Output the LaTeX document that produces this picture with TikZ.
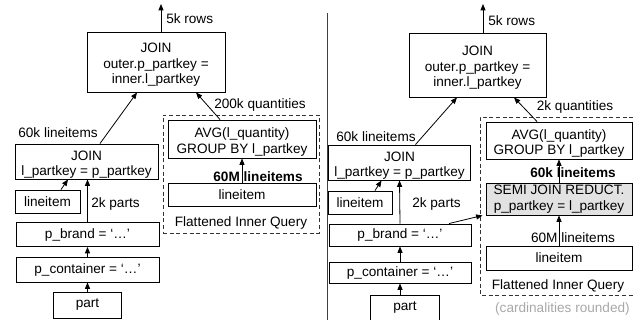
\documentclass[tikz,border=0pt]{standalone}
\usepackage{fontspec}
\setmainfont{Liberation Sans}
\usetikzlibrary{arrows.meta,calc}
\newdimen\pxu \pxu=0.75pt
\newcommand{\firststrut}{\rule{0pt}{11.6pt}}
\definecolor{semigray}{HTML}{E2E2E2}
\definecolor{notegray}{HTML}{A8A8A8}
\definecolor{dashgray}{HTML}{333333}
\tikzset{
  box/.style={draw, line width=0.7pt, inner sep=0pt, align=center},
  lbl/.style={inner sep=0pt},
  arr/.style={line width=0.6pt, -{Triangle[length=4.8pt,width=3.8pt]}},
  dbox/.style={draw=dashgray, line width=0.7pt, dash pattern=on 3pt off 2pt},
}
\begin{document}
\begin{tikzpicture}[x=0.75pt, y=-0.75pt, font=\fontsize{10.2}{11.6}\selectfont]
\useasboundingbox (0,0) rectangle (634,320);

% ---------- left panel ----------
\node[box, minimum width=138\pxu, minimum height=60\pxu] (tjL) at (156,62) {\firststrut JOIN\\outer.p\_partkey =\\inner.l\_partkey};
\node[dbox, minimum width=156\pxu, minimum height=118\pxu] (fiqL) at (241,174) {};
\node[lbl] (fiqLt) at (241,223) {Flattened Inner Query};
\node[box, minimum width=148\pxu, minimum height=38\pxu] (avgL) at (242,139) {\firststrut AVG(l\_quantity)\\GROUP BY l\_partkey};
\node[box, minimum width=148\pxu, minimum height=23\pxu] (iliL) at (242,194.5) {lineitem};
\node[box, minimum width=143\pxu, minimum height=35\pxu] (jL) at (86.5,161.5) {\firststrut JOIN\\l\_partkey = p\_partkey};
\node[box, minimum width=65\pxu, minimum height=23\pxu] (liL) at (47.5,201.5) {lineitem};
\node[box, minimum width=143\pxu, minimum height=24\pxu] (brL) at (87.5,234.5) {p\_brand = ‘…’};
\node[box, minimum width=143\pxu, minimum height=25\pxu] (coL) at (87.5,269.5) {p\_container = ‘…’};
\node[box, minimum width=68\pxu, minimum height=26\pxu] (paL) at (87.5,305) {part};
\coordinate (outL) at (161,4);

\draw[arr] (outL |- tjL.north) -- (outL);
\draw[arr] ($(jL.north)+(13.5,0)$) -- ($(tjL.south)+(-19,0)$);
\draw[arr] ($(avgL.north)+(-22,0)$) -- ($(tjL.south)+(40,0)$);
\draw[arr] (iliL.north) -- (avgL.south);
\draw[arr] ($(liL.north)+(13.5,0)$) -- ($(jL.south)+(-18.5,0)$);
\draw[arr] (brL.north) -- (brL.north |- jL.south);
\draw[arr] (coL.north) -- (brL.south);
\draw[arr] (paL.north) -- (coL.south);

\node[lbl, anchor=west] (rowsL) at (166,19) {5k rows};
\node[lbl] (l60kL) at (58,133) {60k lineitems};
\node[lbl] (q200L) at (260,105) {200k quantities};
\node[lbl] (m60L) at (258,177) {\bfseries 60M lineitems};
\node[lbl, anchor=west] (p2kL) at (91,204) {2k parts};

% divider
\draw[line width=0.6pt, draw=black!75] (327,13) -- (327,320);

% ---------- right panel ----------
\node[box, minimum width=137\pxu, minimum height=64\pxu] (tjR) at (477.5,65) {\firststrut JOIN\\outer.p\_partkey =\\inner.l\_partkey};
\draw[dbox] (640,117) -- (480,117) -- (480,295) -- (640,295);
\node[lbl] (fiqRt) at (558,286) {Flattened Inner Query};
\node[box, minimum width=146\pxu, minimum height=37\pxu] (avgR) at (559,140.5) {\firststrut AVG(l\_quantity)\\GROUP BY l\_partkey};
\node[box, fill=semigray, minimum width=146\pxu, minimum height=32\pxu] (semiR) at (559,199) {SEMI JOIN REDUCT.\\p\_partkey = l\_partkey};
\node[box, minimum width=146\pxu, minimum height=24\pxu] (iliR) at (559,258) {lineitem};
\node[box, minimum width=142\pxu, minimum height=35\pxu] (jR) at (399.5,162.5) {\firststrut JOIN\\l\_partkey = p\_partkey};
\node[box, minimum width=64\pxu, minimum height=23\pxu] (liR) at (360,202.5) {lineitem};
\node[box, minimum width=142\pxu, minimum height=22\pxu] (brR) at (400,235) {p\_brand = ‘…’};
\node[box, minimum width=142\pxu, minimum height=21\pxu] (coR) at (400,272.5) {p\_container = ‘…’};
\node[box, minimum width=69\pxu, minimum height=25\pxu] (paR) at (405,307.5) {part};
\coordinate (outR) at (483,4);

\draw[arr] (outR |- tjR.north) -- (outR);
\draw[arr] ($(jR.north)+(16,0)$) -- ($(tjR.south)+(-20.5,0)$);
\draw[arr] ($(avgR.north)+(-22,0)$) -- ($(tjR.south)+(36.5,0)$);
\draw[arr] (semiR.north) -- (avgR.south);
\draw[arr] (iliR.north) -- (semiR.south);
\draw[arr] ($(liR.north)+(15,0)$) -- ($(jR.south)+(-18,0)$);
\draw[arr] (brR.north) -- (jR.south);
\draw[arr] (coR.north) -- (brR.south);
\draw[arr] (paR.north -| coR.north) -- (coR.south);
\draw[arr] ($(brR.north)+(49,0)$) -- ($(semiR.south west)+(-3,0)$);

\node[lbl, anchor=west] (rowsR) at (488,21) {5k rows};
\node[lbl] (l60kR) at (376,137) {60k lineitems};
\node[lbl] (q2kR) at (575,107) {2k quantities};
\node[lbl] (k60R) at (573,173) {\bfseries 60k lineitems};
\node[lbl] (m60R) at (573,238) {60M lineitems};
\node[lbl, anchor=west] (p2kR) at (412,204) {2k parts};
\node[lbl, anchor=east, text=notegray] (note) at (630,309) {(cardinalities rounded)};
\end{tikzpicture}
\end{document}
